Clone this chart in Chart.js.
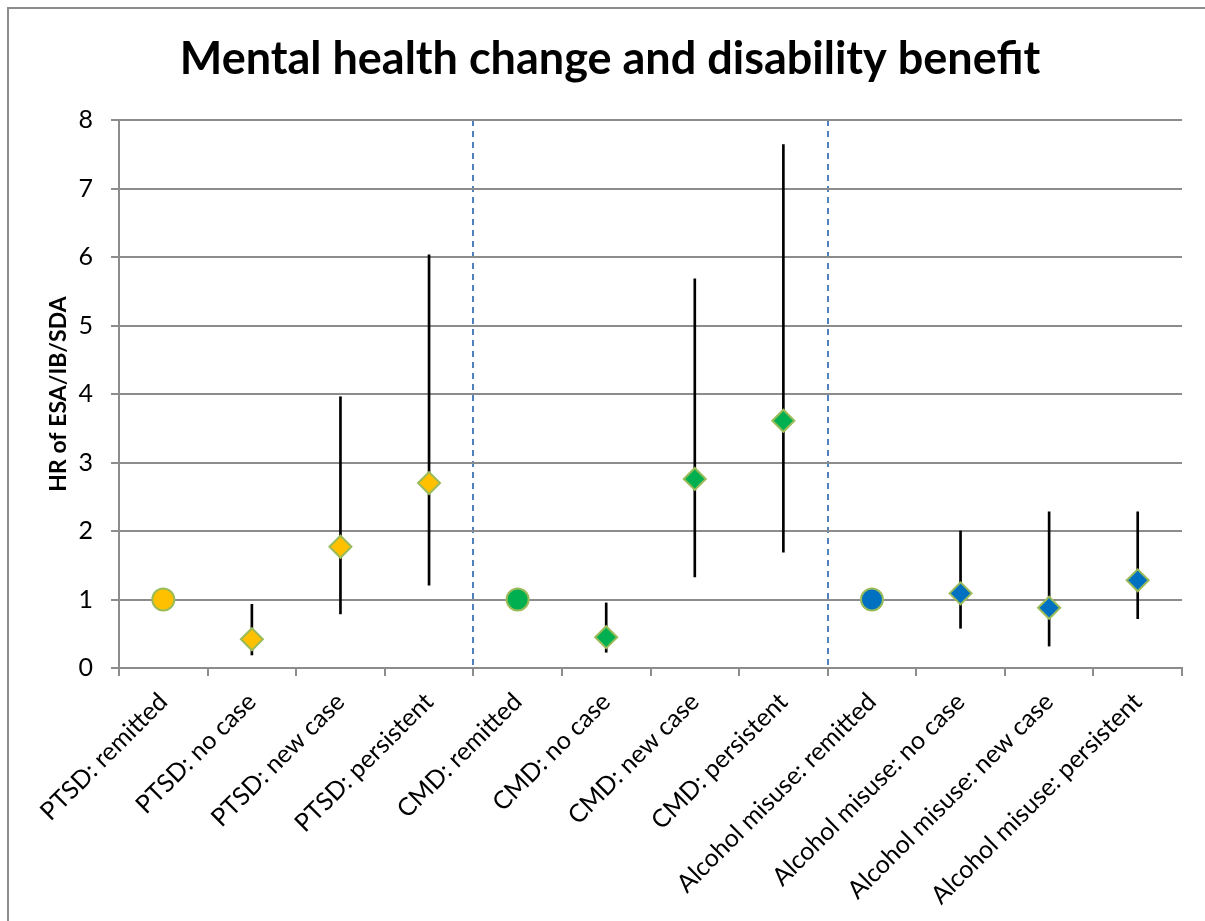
<!DOCTYPE html>
<html>
<head>
<meta charset="utf-8">
<script src="https://cdn.jsdelivr.net/npm/chart.js@4.4.0/dist/chart.umd.min.js"></script>
<style>
  html, body { margin: 0; padding: 0; background: #fff; overflow: hidden; }
  #frame { position: absolute; left: 7px; top: 7px; width: 1400px; height: 1100px; border: 2px solid #8c8c8c; }
  #wrap { position: absolute; left: 0; top: 0; width: 1205px; height: 921px; }
</style>
</head>
<body>
<div id="frame"></div>
<div id="wrap"><canvas id="chart"></canvas></div>
<script>
const categories = [
  "PTSD: remitted", "PTSD: no case", "PTSD: new case", "PTSD: persistent",
  "CMD: remitted", "CMD: no case", "CMD: new case", "CMD: persistent",
  "Alcohol misuse: remitted", "Alcohol misuse: no case", "Alcohol misuse: new case", "Alcohol misuse: persistent"
];
const groups = ["PTSD", "PTSD", "PTSD", "PTSD", "CMD", "CMD", "CMD", "CMD", "Alcohol", "Alcohol", "Alcohol", "Alcohol"];
const hrValues = [1, 0.42, 1.77, 2.70, 1, 0.45, 2.76, 3.61, 1, 1.09, 0.88, 1.28];
const ciLower = [null, 0.19, 0.79, 1.21, null, 0.23, 1.33, 1.69, null, 0.58, 0.32, 0.72];
const ciUpper = [null, 0.93, 3.96, 6.03, null, 0.95, 5.68, 7.64, null, 2.00, 2.28, 2.28];
const yTicks = [0, 1, 2, 3, 4, 5, 6, 7, 8];

const groupColors = { PTSD: "#FFC000", CMD: "#00B050", Alcohol: "#0070C0" };
const FONT = "Lato, 'Open Sans', sans-serif";

// reference groups (remitted) are circles, the rest diamonds
const pointStyles = categories.map(c => c.endsWith("remitted") ? "circle" : "rectRot");
const pointColors = groups.map(g => groupColors[g]);
const ciBars = ciLower.map((lo, i) => lo == null ? null : [lo, ciUpper[i]]);

// dashed separators sit on the category boundaries between groups
const separators = [];
groups.forEach((g, i) => { if (i > 0 && g !== groups[i - 1]) separators.push(i); });

const ctx = document.getElementById("chart").getContext("2d");
new Chart(ctx, {
  type: "bar",
  data: {
    labels: categories,
    datasets: [
      {
        type: "line",
        label: "HR",
        data: hrValues,
        showLine: false,
        pointStyle: pointStyles,
        pointRadius: 11,
        pointHoverRadius: 11,
        pointBackgroundColor: pointColors,
        pointBorderColor: "#9BBB59",
        pointBorderWidth: 2,
        order: 0
      },
      {
        type: "bar",
        label: "95% CI",
        data: ciBars,
        backgroundColor: "#000",
        borderWidth: 0,
        barThickness: 2,
        order: 1
      }
    ]
  },
  options: {
    responsive: true,
    maintainAspectRatio: false,
    animation: false,
    events: [],
    layout: { padding: { left: 38, right: 23, top: 0, bottom: 0 } },
    plugins: {
      legend: { display: false },
      tooltip: { enabled: false },
      title: {
        display: true,
        text: "Mental health change and disability benefit",
        color: "#000",
        font: { family: FONT, size: 45, weight: "bold" },
        padding: { top: 32, bottom: 34 }
      }
    },
    scales: {
      x: {
        offset: true,
        grid: {
          offset: true,
          drawOnChartArea: true,
          color: c => separators.includes(c.index) ? "#4F81BD" : "rgba(0,0,0,0)",
          lineWidth: 2,
          tickColor: "#8c8c8c",
          tickLength: 8,
          tickWidth: 2
        },
        border: { color: "#8c8c8c", width: 2, dash: [6, 5] },
        ticks: {
          color: "#000",
          font: { family: FONT, size: 25 },
          minRotation: 45,
          maxRotation: 45,
          padding: 11,
          autoSkip: false
        },
        afterFit: s => { s.height = 253; }
      },
      y: {
        min: 0,
        max: 8,
        afterBuildTicks: s => { s.ticks = yTicks.map(v => ({ value: v })); },
        grid: { color: "#8c8c8c", lineWidth: 2, tickLength: 8, tickColor: "#8c8c8c", tickWidth: 2 },
        border: { color: "#8c8c8c", width: 2 },
        ticks: { color: "#000", font: { family: FONT, size: 25 }, padding: 18 },
        title: {
          display: true,
          text: "HR of ESA/IB/SDA",
          color: "#000",
          font: { family: FONT, size: 23, weight: "bold" },
          padding: { top: 7, bottom: 0 }
        },
        afterFit: s => { s.width = 81; }
      }
    }
  }
});
</script>
</body>
</html>
